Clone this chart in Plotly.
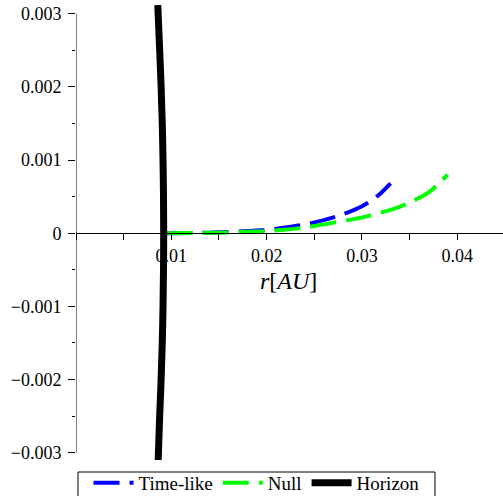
import plotly.graph_objects as go

# Data
timelike_r = [0.0095, 0.012, 0.015, 0.018, 0.020, 0.022, 0.024, 0.026, 0.028, 0.030, 0.031, 0.032, 0.033]
timelike_v = [0.0, 0.000003, 0.000012, 0.00003, 0.000046, 0.00008, 0.00012, 0.00018, 0.00026, 0.00037, 0.00045, 0.00055, 0.00068]

null_r = [0.0095, 0.012, 0.015, 0.018, 0.020, 0.0235, 0.0277, 0.0305, 0.034, 0.0355, 0.0371, 0.039]
null_v = [0.0, 0.000002, 0.000008, 0.00002, 0.00003, 0.00007, 0.00016, 0.00023, 0.000365, 0.00045, 0.00057, 0.0008]

horizon_v = [0.00312, 0.0025, 0.002, 0.0015, 0.001, 0.0005, 0.0, -0.0005, -0.001, -0.0015, -0.002, -0.0025, -0.0031]
horizon_r = [0.00858, 0.00878, 0.00893, 0.00905, 0.00913, 0.00918, 0.0092, 0.00918, 0.00913, 0.00905, 0.00893, 0.00878, 0.00862]

x_range = [0.0, 0.0448]
y_range = [-0.00310, 0.00312]
x_ticks = [0.01, 0.02, 0.03, 0.04]
x_ticklabels = ["0.01", "0.02", "0.03", "0.04"]
y_ticks = [-0.003, -0.002, -0.001, 0, 0.001, 0.002, 0.003]
y_ticklabels = ["\u22120.003", "\u22120.002", "\u22120.001", "0", "0.001", "0.002", "0.003"]

FONT = "Liberation Serif, serif"

W, H = 503, 496
ML, MR, MT, MB = 76, 0, 5, 36
PW, PH = W - ML - MR, H - MT - MB

fig = go.Figure()
fig.add_trace(go.Scatter(x=timelike_r, y=timelike_v, mode="lines", name="Time-like",
                         line=dict(color="#0000ff", width=4, dash="26px,10px", shape="spline")))
fig.add_trace(go.Scatter(x=null_r, y=null_v, mode="lines", name="Null",
                         line=dict(color="#00ff00", width=4, dash="26px,10px", shape="spline")))
fig.add_trace(go.Scatter(x=horizon_r, y=horizon_v, mode="lines", name="Horizon",
                         line=dict(color="#000000", width=7, shape="spline")))

zero_pos = (0 - y_range[0]) / (y_range[1] - y_range[0])

fig.update_layout(
    width=W, height=H,
    margin=dict(l=ML, r=MR, t=MT, b=MB, autoexpand=False),
    paper_bgcolor="white", plot_bgcolor="white",
    font=dict(family=FONT, size=18, color="black"),
    showlegend=True,
    legend=dict(orientation="h", xref="container", x=0.51, xanchor="center",
                yref="container", y=(H - 464) / H, yanchor="top",
                borderwidth=0, font=dict(family=FONT, size=19),
                bgcolor="rgba(0,0,0,0)", itemwidth=40, tracegroupgap=0),
    xaxis=dict(range=x_range, anchor="free", position=zero_pos, showline=True,
               linecolor="black", linewidth=1, showgrid=False, zeroline=False,
               tickmode="array", tickvals=x_ticks, ticktext=x_ticklabels,
               ticks="outside", ticklen=6, tickcolor="black",
               minor=dict(ticks="outside", ticklen=6, tickcolor="black", dtick=0.005, showgrid=False),
               tickfont=dict(family=FONT, size=18)),
    yaxis=dict(range=y_range, showline=False, showgrid=False, zeroline=False,
               tickmode="array", tickvals=y_ticks, ticktext=y_ticklabels,
               ticks="outside", ticklen=7, tickcolor="black", ticklabelstandoff=3,
               minor=dict(ticks="outside", ticklen=3, tickcolor="black", dtick=0.0005, showgrid=False),
               tickfont=dict(family=FONT, size=18)),
)

fig.add_shape(type="line", xref="x", yref="y", x0=0, x1=0, y0=-0.003, y1=0.003,
              line=dict(color="black", width=1))

# legend frame
fig.add_shape(type="rect", xref="paper", yref="paper",
              x0=(78 - ML) / PW, x1=(435 - ML) / PW,
              y0=(H - MB - 472) / PH, y1=(H - MB - 502) / PH,
              line=dict(color="black", width=1), fillcolor="rgba(0,0,0,0)", layer="above")

fig.add_annotation(x=0.02231, y=-0.00065, xref="x", yref="y", showarrow=False,
                   text="<i>r</i>[<i>AU</i>]", font=dict(family=FONT, size=24, color="black"))

fig.write_html("out.html")
